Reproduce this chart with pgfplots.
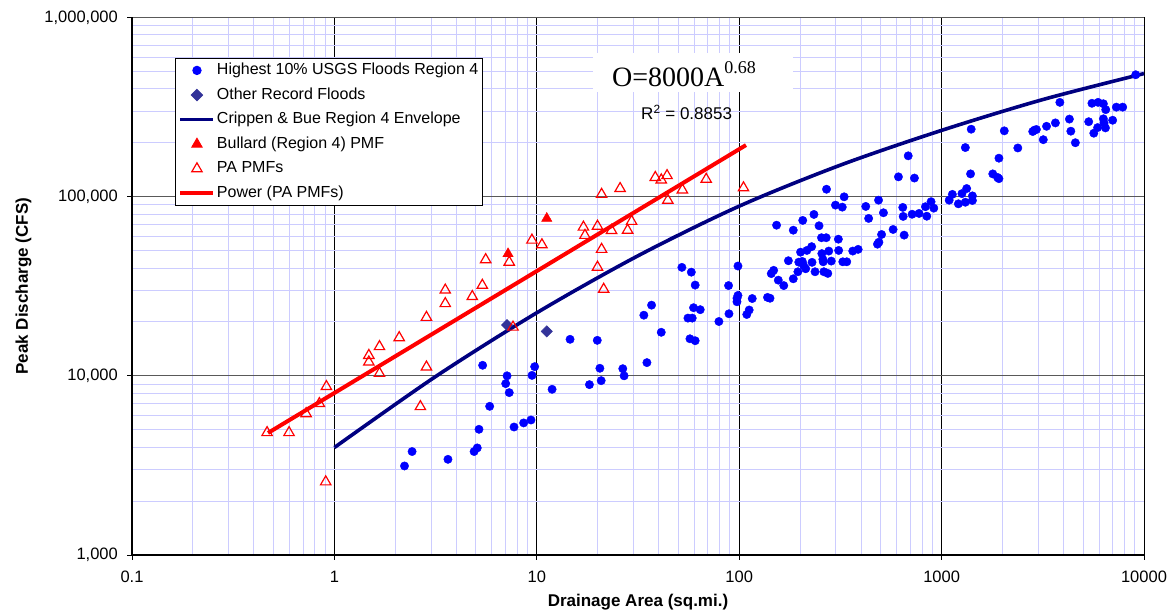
\documentclass[border=0pt]{standalone}
\usepackage{fontspec}
\setmainfont{Liberation Sans}
\newfontfamily\timesfont{Liberation Serif}
\usepackage{pgfplots}
\pgfplotsset{compat=1.18}

\definecolor{usgsblue}{RGB}{0,0,255}
\definecolor{navyenv}{RGB}{0,0,128}
\definecolor{slatediam}{RGB}{51,51,153}
\definecolor{gridlav}{RGB}{204,204,255}

\begin{document}
\begin{tikzpicture}
\begin{axis}[
  scale only axis, width=1012pt, height=537.5pt,
  xmode=log, ymode=log,
  xmin=0.1, xmax=10000, ymin=1000, ymax=1000000,
  xtick={0.1,1,10,100,1000,10000},
  xticklabels={0.1,1,10,100,1000,10000},
  ytick={1000,10000,100000,1000000},
  yticklabels={{1,000},{10,000},{100,000},{1,000,000}},
  minor xtick={0.2,0.3,0.4,0.5,0.6,0.7,0.8,0.9,2,3,4,5,6,7,8,9,20,30,40,50,60,70,80,90,200,300,400,500,600,700,800,900,2000,3000,4000,5000,6000,7000,8000,9000},
  minor ytick={2000,3000,4000,5000,6000,7000,8000,9000,20000,30000,40000,50000,60000,70000,80000,90000,200000,300000,400000,500000,600000,700000,800000,900000},
  grid=both,
  major x grid style={black, line width=0.9pt},
  major y grid style={black!65, line width=1.2pt},
  minor grid style={gridlav, line width=0.9pt},
  axis x line*=bottom, axis y line*=left,
  axis line style={black, line width=1.8pt, -},
  tick align=outside, major tick length=5pt, minor tick length=0pt,
  tick style={black, line width=0.9pt},
  tick label style={font=\fontsize{16.5}{19}\selectfont},
  xticklabel style={inner sep=0pt, anchor=north, yshift=-11pt},
  yticklabel style={inner sep=0pt, anchor=east, xshift=-9pt},
  xlabel={Drainage Area (sq.mi.)},
  ylabel={Peak Discharge (CFS)},
  every axis x label/.style={at={(axis description cs:0.5,0)}, anchor=base, yshift=-52pt, font=\bfseries\fontsize{17}{20}\selectfont},
  every axis y label/.style={at={([xshift=-104pt]axis description cs:0,0.5)}, rotate=90, anchor=base, font=\bfseries\fontsize{17}{20}\selectfont},
  legend style={at={(0.0425,0.9247)}, anchor=north west, draw=black, line width=0.9pt, fill=white,
    font=\fontsize{16}{19}\selectfont, row sep=4.6pt, inner xsep=3pt, inner ysep=2pt,
    nodes={inner xsep=1.5pt, inner ysep=2pt, text height=12pt, text depth=4pt}},
  legend cell align=left,
  legend image code/.code={\draw[mark repeat=2,mark phase=2,#1] plot coordinates {(0pt,0pt) (16.5pt,0pt) (33pt,0pt)};},
]

% Highest 10% USGS floods, region 4
\addplot[only marks, mark=*, color=usgsblue, mark size=4.2pt] coordinates {
(2.22,3140) (2.42,3780) (3.64,3420) (4.90,3780) (5.08,3960) (5.18,5030)
(5.85,6760) (5.40,11450) (7.13,10000) (7.02,9050) (7.31,8060) (7.72,5180)
(8.61,5460) (9.36,5670) (9.76,11250) (9.47,10060) (11.9,8410) (14.6,15990)
(19.9,15780) (18.2,8930) (20.5,11020) (20.8,9400) (26.6,10960) (27.0,10000)
(35.0,11850) (41.2,17500) (33.8,21800) (36.9,24800) (52.1,40300) (58.0,37900)
(60.6,32100) (59.5,24000) (64.2,23400) (55.8,21000) (58.6,21000) (57.1,16100)
(60.6,15700) (79.4,20100) (89.0,22200) (88.6,31900) (98.6,41000) (97.5,27100)
(97.5,25900) (98.6,28100) (109,22000) (112,23300) (116,27000) (138,27400)
(142,27100) (144,37200) (148,38800) (153,69300) (156,34200) (166,31900)
(175,43900) (185,65000) (185,34800) (195,38100) (197,43100) (201,49000)
(205,43500) (208,41300) (213,39600) (216,50100) (206,73700) (228,52600)
(229,43000) (234,79600) (237,38100) (248,68800) (255,59000) (256,48100)
(259,44700) (260,43300) (262,38100) (269,59000) (270,110000) (274,37300)
(277,49700) (285,43700) (299,89700) (309,57900) (310,50100) (323,87400)
(330,99800) (325,43300) (340,43300) (364,49700) (387,50800) (422,88200)
(436,75600) (488,95600) (516,81300) (482,54300) (490,55700) (505,61500)
(576,65600) (612,129000) (643,87100) (646,77600) (653,61000) (684,169000)
(715,79800) (774,80600) (734,127000) (832,87900) (845,77800) (887,93700)
(915,86300) (1090,95600) (1130,103000) (1210,91200) (1260,104000) (1310,93100)
(1330,111000) (1310,188000) (1390,134000) (1400,238000) (1420,95200) (1420,101000)
(1790,134000) (1890,128000) (1920,126000) (1920,164000) (2040,233000) (2380,187000)
(2820,231000) (2870,235000) (2940,237000) (3180,208000) (3300,247000) (3650,258000)
(3840,336000) (4280,271000) (4350,232000) (4580,200000) (5330,262000) (5530,332000)
(5930,336000) (6300,330000) (6470,306000) (5650,226000) (5900,243000) (6300,272000)
(6350,258000) (6450,242000) (7000,267000) (7300,316000) (7850,316000) (9100,479000)
};
\addlegendentry{Highest 10\% USGS Floods Region 4}

% other record floods
\addplot[only marks, mark=square*, color=slatediam, mark size=4pt, mark options={rotate=45}] coordinates {
(7.13,19200) (11.2,17700)
};
\addlegendentry{Other Record Floods}

% envelope curve
\addplot[navyenv, line width=3.6pt, smooth, tension=0.5, mark=none] coordinates {
(1,3981) (3.162,9908) (10,22490) (31.62,46770) (100,88510)
(316.2,149970) (1000,234400) (3162,348300) (10000,486400)
};
\addlegendentry{Crippen \& Bue Region 4 Envelope}

% Bullard PMF
\addplot[only marks, mark=triangle*, color=red, mark size=6pt] coordinates {
(7.21,48000) (11.2,75600)
};
\addlegendentry{Bullard (Region 4) PMF}

% PA PMFs
\addplot[only marks, mark=triangle, color=red, mark size=6pt, mark options={line width=1.2pt}] coordinates {
(0.465,4820) (0.597,4820) (0.725,6150) (0.843,7000) (0.913,8710) (0.906,2560)
(1.48,13000) (1.48,11940) (1.67,14550) (1.67,10320) (2.09,16330) (2.66,6730)
(2.85,21200) (2.85,11200) (3.53,30100) (3.53,25300) (4.80,27700) (5.38,32000)
(5.59,44500) (7.31,43100) (7.63,18700) (9.46,57200) (10.6,53900) (17.0,67600)
(17.3,60800) (19.95,68400) (20.9,103000) (19.95,40400) (20.9,50800) (21.4,30400)
(23.4,64800) (25.8,111000) (28.1,65000) (29.4,72800) (44.4,95500) (52.4,109000)
(68.7,125000) (105,112000) (38.5,128000) (41.2,124000) (44.0,131000)
};
\addlegendentry{PA PMFs}

% power trendline
\addplot[red, line width=4pt, mark=none] coordinates {
(0.47,4800) (108,194000)
};
\addlegendentry{Power (PA PMFs)}

\fill[white] (rel axis cs:0.4555,0.8614) rectangle (rel axis cs:0.6532,0.934);
\node[anchor=base west, inner sep=0pt, font=\timesfont\fontsize{28}{30}\selectfont]
  at (rel axis cs:0.4743,0.8712) {O=8000A\raisebox{13pt}{\fontsize{18}{20}\selectfont 0.68}};
\node[anchor=base west, inner sep=0pt, font=\fontsize{17}{20}\selectfont]
  at (rel axis cs:0.503,0.8093) {R\textsuperscript{2} = 0.8853};
\end{axis}
\path (current axis.south west) ++(-132pt,-59pt);
\path (current axis.north east) ++(23pt,17.5pt);
\end{tikzpicture}
\end{document}
